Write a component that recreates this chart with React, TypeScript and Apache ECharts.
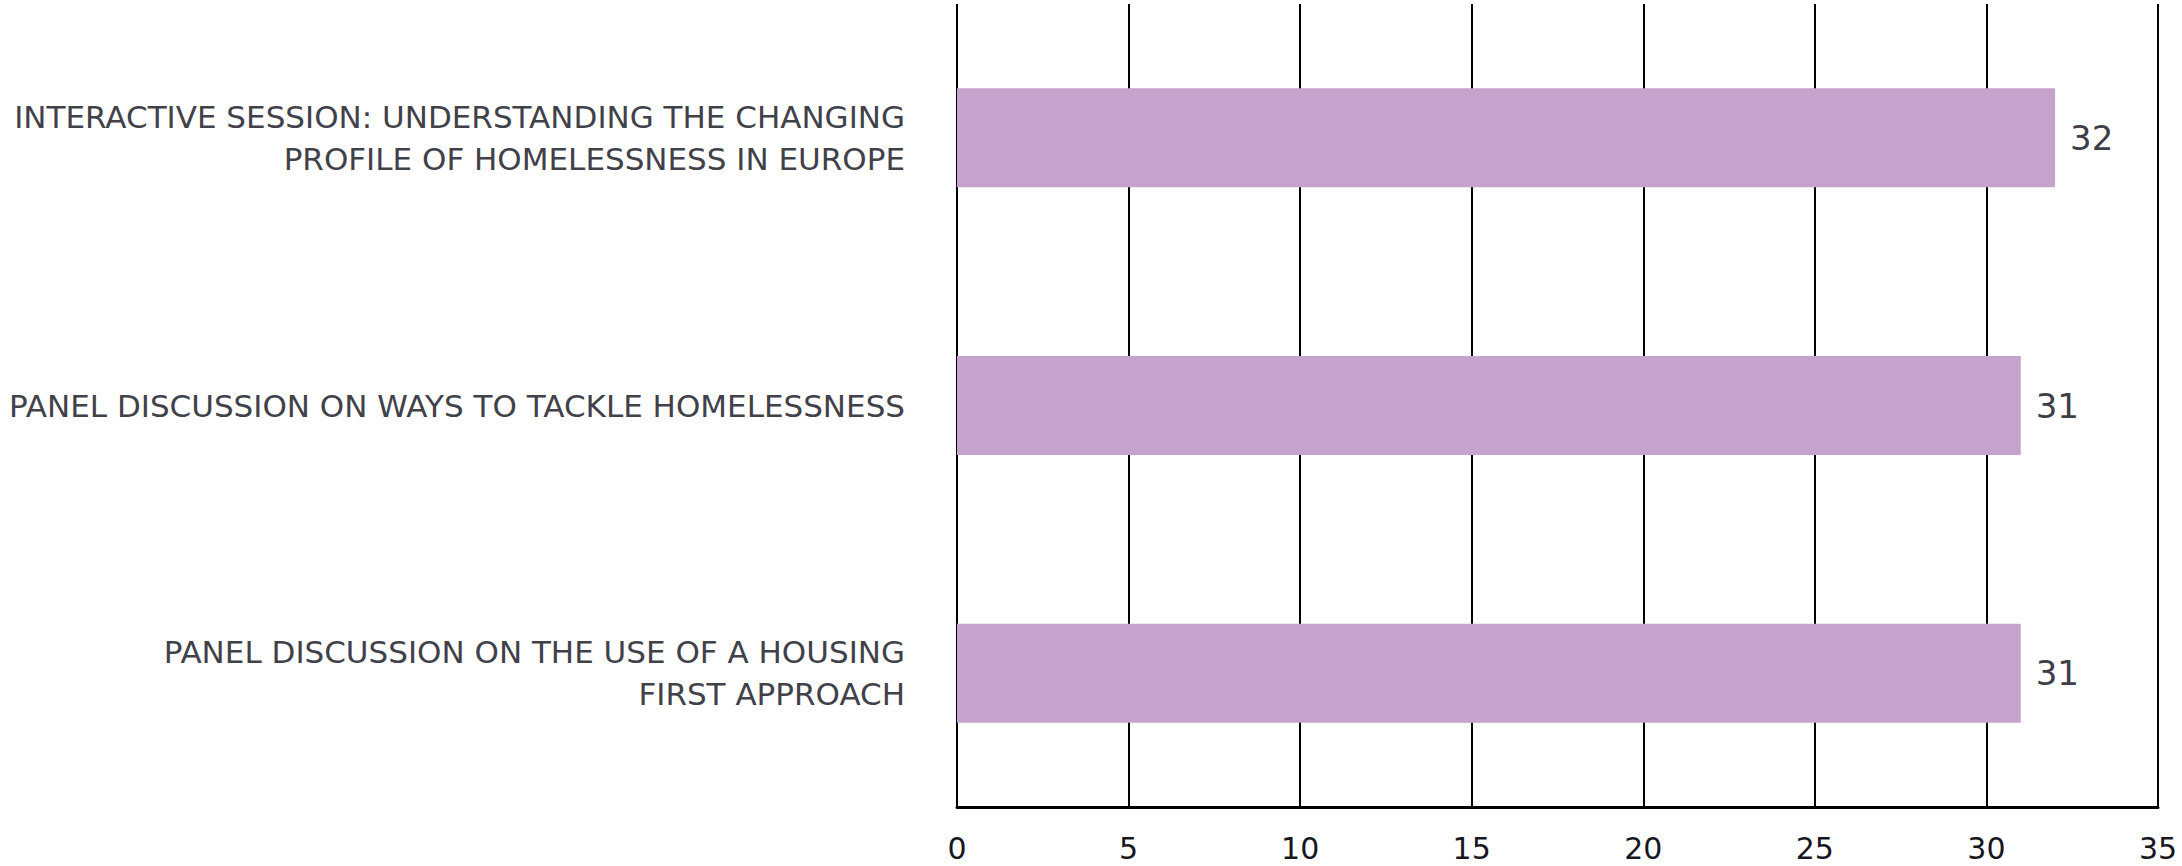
import React, { useEffect, useRef } from "react";
import * as echarts from "echarts";

const categories = [
  "INTERACTIVE SESSION: UNDERSTANDING THE CHANGING\nPROFILE OF HOMELESSNESS IN EUROPE",
  "PANEL DISCUSSION ON WAYS TO TACKLE HOMELESSNESS",
  "PANEL DISCUSSION ON THE USE OF A HOUSING\nFIRST APPROACH",
];
const values = [32, 31, 31];

export default function App() {
  const ref = useRef<HTMLDivElement>(null);
  useEffect(() => {
    document.body.style.margin = "0";
    if (!ref.current) return;
    const chart = echarts.init(ref.current, null, { renderer: "svg" });
    const font = "'DejaVu Sans', sans-serif";
    chart.setOption({
      animation: false,
      grid: {
        left: 957,
        right: 24,
        top: 4,
        bottom: 59,
        containLabel: false,
        outerBoundsMode: "none",
      },
      xAxis: {
        type: "value",
        min: 0,
        max: 35,
        interval: 5,
        axisLine: { show: true, lineStyle: { color: "#000", width: 3 } },
        axisTick: { show: false },
        splitLine: { show: true, lineStyle: { color: "#000", width: 2 } },
        axisLabel: { color: "#16161f", fontSize: 30, fontFamily: font, margin: 26 },
      },
      yAxis: {
        type: "category",
        data: categories,
        inverse: true,
        axisLine: { show: false },
        axisTick: { show: false },
        splitLine: { show: false },
        axisLabel: {
          color: "#414149",
          fontSize: 31,
          lineHeight: 42,
          fontFamily: font,
          align: "right",
          margin: 52,
          padding: [0, 0, 4, 0],
        },
      },
      series: [
        {
          type: "bar",
          data: values,
          barWidth: "37%",
          itemStyle: { color: "#C5A3CC" },
          label: {
            show: true,
            position: "right",
            distance: 15,
            color: "#3e3e46",
            fontSize: 34,
            fontFamily: font,
          },
        },
      ],
    });
    return () => chart.dispose();
  }, []);
  return <div ref={ref} style={{ width: 2182, height: 866 }} />;
}
